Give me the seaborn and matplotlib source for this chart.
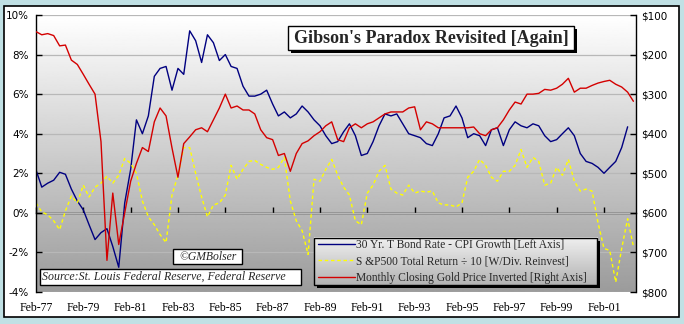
import numpy as np
import pandas as pd
import matplotlib
matplotlib.use("Agg")
import matplotlib.pyplot as plt
from matplotlib.patches import Rectangle
from matplotlib.lines import Line2D
from matplotlib.image import BboxImage
from matplotlib.transforms import Bbox, TransformedBbox, offset_copy
import seaborn as sns

# ---------------------------------------------------------------- data
# quarterly observations, starting Feb-1977
series_start = "1977-02-01"

# 30 Yr. T-Bond rate minus CPI growth, %
bond_real_rate = [
    2.17, 1.3, 1.5, 1.65, 2.05, 1.95, 1.2, 0.6, 0.15, -0.6,
    -1.35, -1.0, -0.8, -1.7, -2.75, 0.5, 2.2, 4.7, 4.0, 4.9,
    6.9, 7.3, 7.4, 6.2, 7.3, 7.0, 9.2, 8.7, 7.6, 9.0,
    8.6, 7.7, 8.0, 7.4, 7.3, 6.4, 5.9, 5.9, 6.0, 6.2,
    5.5, 4.9, 5.1, 4.8, 5.0, 5.4, 5.1, 4.7, 4.4, 3.9,
    3.5, 3.6, 4.1, 4.5, 3.9, 2.9, 3.0, 3.6, 4.4, 5.0,
    4.9, 5.0, 4.5, 4.0, 3.9, 3.8, 3.5, 3.4, 4.0, 4.8,
    4.9, 5.4, 4.8, 3.8, 4.0, 3.9, 3.4, 4.2, 4.3, 3.4,
    4.2, 4.6, 4.4, 4.3, 4.5, 4.4, 3.9, 3.6, 3.7, 4.0,
    4.3, 3.9, 3.0, 2.6, 2.5, 2.3, 2.0, 2.3, 2.6, 3.3,
    4.35,
]

# S&P 500 total return (dividends reinvested) divided by 10, %
sp500_return = [
    0.5, 0.05, -0.1, -0.4, -0.85, 0.1, 0.85, 0.5, 1.4, 0.8,
    1.3, 1.5, 1.85, 1.5, 1.9, 2.75, 2.5, 2.0, 0.6, -0.2,
    -0.6, -1.1, -1.5, 0.9, 1.9, 3.3, 3.3, 2.0, 0.8, -0.2,
    0.4, 0.5, 0.9, 2.4, 1.7, 2.2, 2.6, 2.65, 2.45, 2.3,
    2.2, 2.3, 2.8, 0.6, -0.4, -0.9, -2.1, 1.7, 1.6, 2.2,
    2.7, 1.9, 1.3, 0.9, -0.4, -0.6, 1.0, 1.4, 2.1, 2.4,
    1.2, 1.0, 0.9, 1.4, 1.0, 1.1, 1.05, 1.1, 0.5, 0.4,
    0.4, 0.3, 0.5, 1.8, 2.1, 2.7, 2.4, 1.8, 1.6, 2.1,
    2.1, 2.4, 3.2, 2.3, 2.8, 2.6, 1.4, 1.5, 2.3, 1.9,
    2.7, 1.6, 1.1, 1.2, 1.1, -0.5, -1.8, -1.9, -3.5, -1.8,
    -0.3, -1.7,
]

# monthly closing gold price, $ (plotted on an inverted axis)
gold_price = [
    142, 150, 147, 152, 178, 176, 214, 225, 250, 275,
    300, 420, 720, 550, 680, 600, 520, 475, 435, 445,
    370, 335, 355, 436, 510, 425, 408, 390, 385, 395,
    365, 335, 300, 335, 330, 340, 340, 350, 390, 410,
    415, 455, 450, 495, 450, 425, 418, 405, 395, 380,
    370, 415, 420, 385, 375, 385, 375, 370, 360, 350,
    345, 345, 345, 335, 332, 390, 370, 375, 385, 385,
    385, 385, 385, 385, 383, 400, 405, 390, 385, 365,
    340, 320, 325, 300, 300, 298, 288, 290, 285, 275,
    260, 295, 285, 285, 278, 272, 268, 265, 275, 282,
    295, 318,
]

pct_ticks = [-4, -2, 0, 2, 4, 6, 8, 10]
price_ticks = [100, 200, 300, 400, 500, 600, 700, 800]
date_ticks = pd.date_range("1977-02-01", "2001-02-01", freq="24MS")
axis_end = "2002-06-10"

title = "Gibson's Paradox Revisited [Again]"
legend_labels = [
    "30 Yr. T Bond Rate - CPI Growth [Left Axis]",
    "S &P500 Total Return \u00f7 10 [W/Div. Reinvest]",
    "Monthly Closing Gold Price Inverted [Right Axis]",
]
credit = "\u00a9GMBolser"
source = "Source:St. Louis Federal Reserve, Federal Reserve"

# ---------------------------------------------------------------- frames
dates = pd.date_range(series_start, periods=len(gold_price), freq="3MS")
bond_df = pd.DataFrame({"date": dates[:len(bond_real_rate)], "value": bond_real_rate})
sp_df = pd.DataFrame({"date": dates[:len(sp500_return)], "value": sp500_return})
gold_df = pd.DataFrame({"date": dates[:len(gold_price)], "value": gold_price})

# ---------------------------------------------------------------- style
sns.set_style("white")
plt.rcParams["font.family"] = ["DejaVu Sans"]
SERIF = "Liberation Serif"
BLUE, YELLOW, RED = "#000080", "#ffff00", "#d40000"
DASH = (0, (2.5, 2))

W, H = 684, 324
fig = plt.figure(figsize=(W / 100, H / 100), dpi=100)
fig.patch.set_facecolor("#c0e0e4")
fig.add_artist(Rectangle((4 / W, 1 - 317 / H), 675 / W, 311 / H,
                         transform=fig.transFigure, facecolor="white",
                         edgecolor="black", lw=1.2, zorder=-2))

pos = [36 / W, 1 - 292 / H, 600 / W, 277 / H]

# shaded plot area: white at the top fading to grey at the bottom
bg = fig.add_axes(pos, zorder=-1)
bg.imshow(np.linspace(1.0, 0.61, 256).reshape(-1, 1), aspect="auto", cmap="gray",
          vmin=0, vmax=1, extent=(0, 1, 0, 1), interpolation="bilinear")
bg.axis("off")

ax = fig.add_axes(pos)
ax.set_facecolor("none")

sns.lineplot(data=bond_df, x="date", y="value", ax=ax, color=BLUE, lw=1, legend=False)
sns.lineplot(data=sp_df, x="date", y="value", ax=ax, color=YELLOW, lw=1,
             linestyle=DASH, legend=False)

ax2 = ax.twinx()
sns.lineplot(data=gold_df, x="date", y="value", ax=ax2, color=RED, lw=1, legend=False)

# ---------------------------------------------------------------- axes
ax.set_xlim(pd.Timestamp(series_start), pd.Timestamp(axis_end))
ax.set_ylim(min(pct_ticks), max(pct_ticks))
ax2.set_ylim(max(price_ticks), min(price_ticks))

ax.set_yticks(pct_ticks)
ax.set_yticklabels([f"{v}%" for v in pct_ticks])
ax2.set_yticks(price_ticks)
ax2.set_yticklabels([f"${v}" for v in price_ticks])
ax.set_xticks(date_ticks)
ax.set_xticklabels([d.strftime("%b-%y") for d in date_ticks], family=SERIF, fontsize=8.5)

ax.set_xlabel("")
ax.set_ylabel("")
ax2.set_ylabel("")

ax.tick_params(axis="x", length=0, pad=7, colors="black")
ax.tick_params(axis="y", direction="in", length=4, width=1, pad=5,
               labelsize=7.5, colors="black")
ax2.tick_params(axis="y", direction="in", length=4, width=1, pad=4,
                labelsize=7.5, colors="black")

ax.grid(axis="y", color="#b8b8b8", lw=0.9)
ax.grid(axis="x", visible=False)
ax.set_axisbelow(True)

for name in ("top", "bottom", "right"):
    ax.spines[name].set_visible(False)
ax.spines["left"].set_color("black")
ax.spines["left"].set_linewidth(1)
for name in ("top", "bottom", "left"):
    ax2.spines[name].set_visible(False)
ax2.spines["right"].set_color("black")
ax2.spines["right"].set_linewidth(1)

# category axis crossing at 0%
zero_frac = (0 - min(pct_ticks)) / (max(pct_ticks) - min(pct_ticks))
zero_axis = ax.secondary_xaxis(zero_frac)
zero_axis.set_xticks(matplotlib.dates.date2num(date_ticks))
zero_axis.tick_params(direction="in", length=4, width=1, labelbottom=False, colors="black")
zero_axis.spines["bottom"].set_color("black")
zero_axis.spines["bottom"].set_linewidth(1)

# ---------------------------------------------------------------- boxes
def box(x0, y0, x1, y1, face="white", shadow=False, gradient=None):
    if shadow:
        ax2.add_patch(Rectangle((x0, y0), x1 - x0, y1 - y0,
                                transform=offset_copy(ax2.transAxes, fig=fig, x=3, y=-3, units="dots"),
                                facecolor="black", edgecolor="none", zorder=6, clip_on=False))
    if gradient is not None:
        img = BboxImage(TransformedBbox(Bbox.from_extents(x0, y0, x1, y1), ax2.transAxes),
                        cmap="gray", norm=plt.Normalize(0, 1), interpolation="bilinear")
        img.set_data(np.linspace(gradient[0], gradient[1], 64).reshape(-1, 1))
        img.set_zorder(6.1)
        ax2.add_artist(img)
        face = "none"
    ax2.add_patch(Rectangle((x0, y0), x1 - x0, y1 - y0, transform=ax2.transAxes,
                            facecolor=face, edgecolor="black", lw=1, zorder=6.2, clip_on=False))


box(0.420, 0.8736, 0.8967, 0.9603, shadow=True)
ax2.text((0.420 + 0.8967) / 2, (0.8736 + 0.9603) / 2 - 0.002, title, transform=ax2.transAxes,
         ha="center", va="center", family=SERIF, fontsize=13, fontweight="bold", zorder=7)

box(0.2278, 0.1011, 0.3438, 0.1542)
ax2.text((0.2278 + 0.3438) / 2, (0.1011 + 0.1542) / 2, credit, transform=ax2.transAxes,
         ha="center", va="center", family=SERIF, style="italic", fontsize=8.4, zorder=7)

box(0.0067, 0.0253, 0.4412, 0.0820)
ax2.text(0.0105, (0.0253 + 0.0820) / 2, source, transform=ax2.transAxes,
         ha="left", va="center", family=SERIF, style="italic", fontsize=8.6, zorder=7)

box(0.4633, 0.0253, 0.935, 0.195, shadow=True, gradient=(0.94, 0.70))
handles = [
    Line2D([], [], color=BLUE, lw=1),
    Line2D([], [], color=YELLOW, lw=1, linestyle=DASH),
    Line2D([], [], color=RED, lw=1),
]
leg = ax2.legend(handles, legend_labels, loc="center left", bbox_to_anchor=(0.470, 0.110),
                 frameon=False, prop={"family": SERIF, "size": 8.3}, handlelength=3.2,
                 handletextpad=0.1, labelspacing=0.42, borderpad=0, borderaxespad=0)
leg.set_zorder(7)

ax.set_xlim(pd.Timestamp(series_start), pd.Timestamp(axis_end))
fig.savefig("out.png", dpi=100, facecolor=fig.get_facecolor())
